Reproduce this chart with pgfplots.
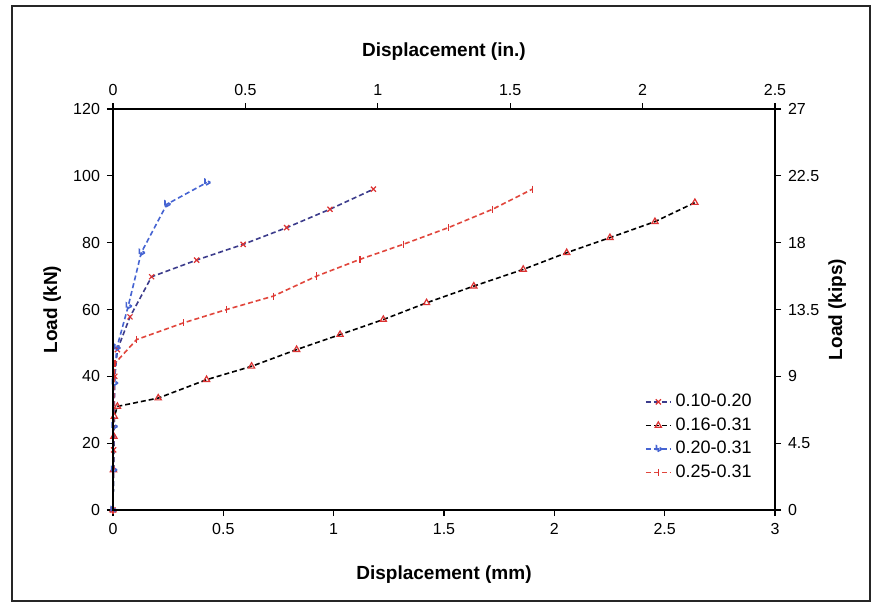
\documentclass[border=0pt]{standalone}
\usepackage{fontspec}
\setmainfont{Liberation Sans}
\usepackage{pgfplots}
\pgfplotsset{compat=1.18}
\definecolor{cA}{RGB}{70,100,210}
\definecolor{cB}{RGB}{60,60,140}
\definecolor{cC}{RGB}{225,70,60}
\definecolor{cM}{RGB}{220,50,50}
\begin{document}
\begin{tikzpicture}
\useasboundingbox (-56.5pt,-48.5pt) rectangle (382.5pt,255pt);
\fill[white] (-56.5pt,-48.5pt) rectangle (382.5pt,255pt);
\draw[line width=0.8pt, black!85] (-50.5pt,-45.5pt) rectangle (378.5pt,252pt);
\begin{axis}[
  scale only axis, width=331pt, height=200.5pt,
  at={(0pt,0pt)}, anchor=south west,
  xmin=0, xmax=3, ymin=0, ymax=120,
  xtick={0,0.5,...,3}, ytick={0,20,...,120},
  xtick pos=left, ytick pos=left,
  tick align=outside, major tick length=3pt,
  axis line style={line width=0.8pt},
  tick style={line width=0.6pt, black},
  /pgf/number format/assume math mode=true,
  ticklabel style={font=\fontsize{8}{9}\selectfont},
  xlabel={Displacement (mm)}, ylabel={Load (kN)},
  label style={font=\fontsize{9.5}{11}\selectfont\bfseries},
  xlabel style={at={(axis description cs:0.5,-0.162)}, anchor=center},
  ylabel style={at={(axis description cs:-0.092,0.5)}, anchor=center, rotate=0},
  legend style={at={(0.80,0.305)}, anchor=north west, draw=none, fill=white,
    font=\fontsize{9}{10}\selectfont, row sep=0pt, inner sep=1pt},
  legend cell align=left,
  legend image code/.code={\draw[mark repeat=2,mark phase=2] plot coordinates {(0cm,0cm) (0.22cm,0cm) (0.44cm,0cm)};},
  every axis plot/.append style={line width=0.8pt, dash pattern=on 2.5pt off 1.5pt,
     mark size=1.8pt, mark options={solid, draw=cM, line width=0.6pt}},
]
\addplot[cB, mark=x] coordinates {
(0,0) (0.003,18) (0.008,40) (0.02,48) (0.077,57.8) (0.175,69.8) (0.379,74.8)
(0.59,79.5) (0.787,84.5) (0.983,90) (1.18,96)};
\addlegendentry{0.10-0.20}
\addplot[black, mark=triangle] coordinates {
(0,0) (0.002,12) (0.004,22) (0.006,28) (0.02,31) (0.205,33.5) (0.424,39)
(0.628,43) (0.832,48) (1.029,52.5) (1.225,57) (1.421,62) (1.635,67)
(1.859,72) (2.056,77) (2.252,81.5) (2.456,86.3) (2.637,92)};
\addlegendentry{0.16-0.31}
\addplot[cA, mark=triangle, mark options={rotate=-90}] coordinates {
(0,0) (0.002,12) (0.004,25) (0.006,38) (0.017,48.5) (0.069,61) (0.128,77)
(0.244,91.5) (0.425,98)};
\addlegendentry{0.20-0.31}
\addplot[cC, mark=|] coordinates {
(0,0) (0.002,20) (0.004,37) (0.006,40) (0.009,43.9) (0.107,51) (0.319,56)
(0.515,60) (0.726,64) (0.923,70) (1.119,75) (1.315,79.5) (1.52,84.5)
(1.72,90) (1.9,96)};
\addlegendentry{0.25-0.31}
\end{axis}
\begin{axis}[
  scale only axis, width=331pt, height=200.5pt,
  at={(0pt,0pt)}, anchor=south west,
  xmin=0, xmax=2.5, ymin=0, ymax=27,
  xtick={0,0.5,1,1.5,2,2.5}, ytick={0,4.5,9,13.5,18,22.5,27},
  xtick pos=right, xticklabel pos=right, ytick pos=right, yticklabel pos=right,
  tick align=outside, major tick length=3pt,
  axis line style={line width=0.8pt},
  tick style={line width=0.6pt, black},
  /pgf/number format/assume math mode=true,
  ticklabel style={font=\fontsize{8}{9}\selectfont},
  xlabel={Displacement (in.)}, ylabel={Load (kips)},
  label style={font=\fontsize{9.5}{11}\selectfont\bfseries},
  xlabel style={at={(axis description cs:0.5,1.142)}, anchor=center},
  ylabel style={at={(axis description cs:1.094,0.5)}, anchor=center},
]
\end{axis}
\end{tikzpicture}
\end{document}
